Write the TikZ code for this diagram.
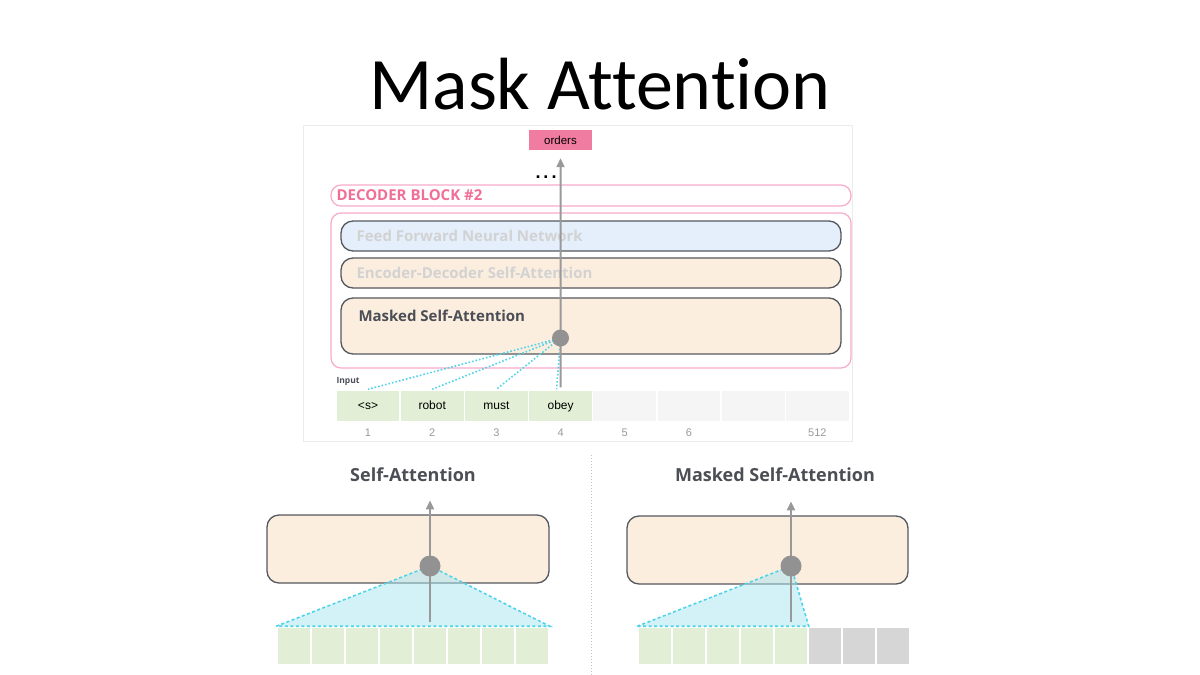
\documentclass[tikz,border=0pt]{standalone}
\usepackage{fontspec}
\setmainfont{Liberation Sans}
\newfontfamily\titlefont[Ligatures={NoCommon}]{Carlito}
\newfontfamily\osans{Open Sans}
\usetikzlibrary{arrows.meta}

\definecolor{pinkfill}{HTML}{F07CA1}
\definecolor{pinkline}{HTML}{F7AACB}
\definecolor{pinktext}{HTML}{EF6F98}
\definecolor{peach}{HTML}{FCEEDF}
\definecolor{ffblue}{HTML}{E4EFFB}
\definecolor{boxline}{HTML}{55585E}
\definecolor{arrgray}{HTML}{999999}
\definecolor{dotgray}{HTML}{929292}
\definecolor{attcyan}{HTML}{4FD3E9}
\definecolor{trifill}{HTML}{A6E6F2}
\definecolor{wordgreen}{HTML}{E2EFD6}
\definecolor{emptycell}{HTML}{F5F5F5}
\definecolor{maskcell}{HTML}{D6D6D6}
\definecolor{headgray}{HTML}{4B4E55}
\definecolor{fadetext}{HTML}{D2D2D2}

\begin{document}
\begin{tikzpicture}[x=1pt, y=-1pt,
blk/.style={draw=boxline, line width=1.3pt, rounded corners=12pt},
pinkbox/.style={draw=pinkline, line width=1.2pt, rounded corners=10pt},
cell/.style={draw=white, line width=1.5pt, minimum height=32pt, inner sep=0pt, text height=8.5pt, text depth=2.5pt, font=\fontsize{12}{14}\selectfont},
smallcell/.style={draw=white, line width=1.5pt, minimum height=38pt, inner sep=0pt},
num/.style={text=arrgray, font=\fontsize{11}{13}\selectfont},
lbl/.style={anchor=west, font=\osans\bfseries\fontsize{15}{17}\selectfont},
head/.style={text=headgray, font=\osans\bfseries\fontsize{18}{20}\selectfont},
dot/.style={circle, fill=dotgray, inner sep=0pt},
arr/.style={draw=arrgray, line width=2pt, -{Triangle[length=9pt,width=8pt]}},
attline/.style={draw=attcyan, line width=1.6pt, dotted},
tri/.style={draw=attcyan, line width=1.6pt, dash pattern=on 3pt off 2.5pt, fill=trifill, fill opacity=0.5}]
\useasboundingbox (0,0) rectangle (1200,675);
\def\cw{64.2}
\def\sw{34}

% Title
\node[font=\titlefont\fontsize{74}{78}\selectfont] (title) at (600,84) {Mask Attention};

% Decoder picture
\node[draw=black!8, line width=1pt, minimum width=549pt, minimum height=316pt, inner sep=0pt] (frame) at (577.5,283) {};
\node[fill=pinkfill, minimum width=63pt, minimum height=20pt, inner sep=0pt, font=\fontsize{11.5}{13}\selectfont] (orders) at (560.5,140) {orders};
\node[anchor=base, font=\bfseries\fontsize{18}{18}\selectfont] (dots) at (546,178) {.\hspace{3pt}.\hspace{3pt}.};
\node[pinkbox, minimum width=520pt, minimum height=21pt, inner sep=0pt] (block) at (591,195.5) {};
\node[lbl, text=pinktext] (blocklbl) at (333,195.5) {DECODER BLOCK \#2};
\node[pinkbox, minimum width=520pt, minimum height=155pt, inner sep=0pt] (outer) at (591,290.5) {};
\node[blk, fill=ffblue, minimum width=500pt, minimum height=30pt, inner sep=0pt] (ffnn) at (591,236) {};
\node[lbl, text=fadetext] (ffnnlbl) at (353,236) {Feed Forward Neural Network};
\node[blk, fill=peach, minimum width=500pt, minimum height=30pt, inner sep=0pt] (encdec) at (591,273) {};
\node[lbl, text=fadetext] (encdeclbl) at (353,273) {Encoder-Decoder Self-Attention};
\node[blk, fill=peach, minimum width=500pt, minimum height=56pt, inner sep=0pt] (masked) at (591,326) {};
\node[lbl, text=headgray] (maskedlbl) at (355,316) {Masked Self-Attention};
\coordinate (attc) at (560.5,338);

% Input
\node[anchor=west, text=headgray, font=\osans\bfseries\fontsize{8.5}{9}\selectfont] (inputlbl) at (333,381) {Input};
\foreach \w [count=\i] in {{<s>},robot,must,obey} {
  \node[cell, fill=wordgreen, minimum width=\cw pt] (c\i) at (368+\cw*\i-\cw,406) {\w};
}
\foreach \i in {5,...,8} {
  \node[cell, fill=emptycell, minimum width=\cw pt] (c\i) at (368+\cw*\i-\cw,406) {};
}
\foreach \n/\i in {1/1,2/2,3/3,4/4,5/5,6/6,512/8} {
  \node[num] (n\i) at (368+\cw*\i-\cw,433) {\n};
}
\foreach \i in {1,2,3} {
  \draw[attline] (attc) -- (c\i.north);
}
\draw[attline] (attc) -- ([xshift=-4pt]c4.north);
\draw[arr, shorten >=8pt] ([yshift=2pt]c4.north) -- (orders.south);
\node[dot, minimum size=17pt] (att) at (attc) {};

% separator
\draw[arrgray!60, line width=1pt, dotted] (591,455) coordinate (sepa) -- (591,675) coordinate (sepb);

% Self-Attention
\node[head] (sahead) at (413,475) {Self-Attention};
\node[blk, fill=peach, minimum width=282pt, minimum height=68pt, inner sep=0pt] (sabox) at (408,549) {};
\foreach \i in {1,...,8} {
  \node[smallcell, fill=wordgreen, minimum width=\sw pt] (s\i) at (294+\sw*\i-\sw,646) {};
}
\coordinate (sac) at (430,566);
\draw[tri] (s1.north west) -- (sac) -- (s8.north east) -- cycle;
\draw[arr] ([yshift=4pt]s5.north -| sac) -- ([yshift=14pt]sabox.north -| sac);
\node[dot, minimum size=21pt] (sadot) at (sac) {};

% Masked Self-Attention
\node[head] (msahead) at (775,475) {Masked Self-Attention};
\node[blk, fill=peach, minimum width=281pt, minimum height=68pt, inner sep=0pt] (msabox) at (767.5,550) {};
\foreach \i in {1,...,5} {
  \node[smallcell, fill=wordgreen, minimum width=\sw pt] (m\i) at (655+\sw*\i-\sw,646) {};
}
\foreach \i in {6,7,8} {
  \node[smallcell, fill=maskcell, minimum width=\sw pt] (m\i) at (655+\sw*\i-\sw,646) {};
}
\coordinate (msac) at (791,566);
\draw[tri] (m1.north west) -- (msac) -- (m5.north east) -- cycle;
\draw[arr] ([yshift=4pt]m5.north -| msac) -- ([yshift=14pt]msabox.north -| msac);
\node[dot, minimum size=21pt] (msadot) at (msac) {};
\end{tikzpicture}
\end{document}
